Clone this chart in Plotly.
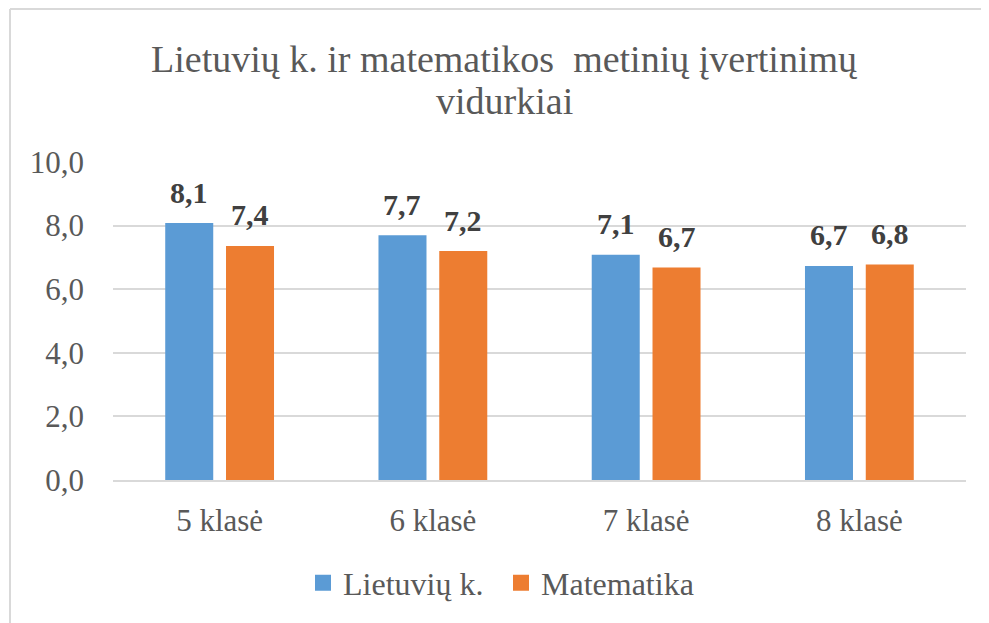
import plotly.graph_objects as go

categories = ["5 klasė", "6 klasė", "7 klasė", "8 klasė"]
lietuviu = [8.08, 7.70, 7.08, 6.73]
matematika = [7.36, 7.20, 6.68, 6.78]
series_names = ["Lietuvių k.", "Matematika"]
series_colors = ["#5B9BD5", "#ED7D31"]
y_ticks = [0, 2, 4, 6, 8, 10]
y_tick_labels = ["0,0", "2,0", "4,0", "6,0", "8,0", "10,0"]
title_line1 = "Lietuvių k. ir matematikos  metinių įvertinimų"
title_line2 = "vidurkiai"

SERIF = "Liberation Serif"
# page body has an 8px margin; compensate so the picture lands where intended
OFF = 8
W, H = 989 - OFF, 623 - OFF
ml, mr, mt, mb = 113 - OFF, 23, 162 - OFF, 143
pw = W - ml - mr
ph = H - mt - mb


def py(screen_y):
    """screen y -> paper y"""
    return ((H - mb) - (screen_y - OFF)) / ph


def px(screen_x):
    return ((screen_x - OFF) - ml) / pw


fig = go.Figure()
series = [lietuviu, matematika]
for name, vals, color in zip(series_names, series, series_colors):
    fig.add_trace(go.Bar(
        x=categories, y=vals, name=name, showlegend=False,
        marker=dict(color=color, line=dict(width=0)),
        hoverinfo="skip",
    ))
# legend entries with larger square symbols
for name, color in zip(series_names, series_colors):
    fig.add_trace(go.Scatter(
        x=[categories[0]], y=[None], name=name, mode="markers",
        marker=dict(symbol="square", size=16, color=color),
        showlegend=True,
    ))

# bold value labels above bars
shifts = [-30.5, 30.5]
for vals, xs in zip(series, shifts):
    for cat, v in zip(categories, vals):
        fig.add_annotation(
            x=cat, y=v, xref="x", yref="y", text=f"<b>{v:.1f}</b>".replace(".", ","),
            showarrow=False, xshift=xs, yshift=31, yanchor="middle",
            font=dict(family=SERIF, size=30, color="#404040"),
        )

# title (two lines with Office-like line spacing)
fig.add_annotation(text=title_line1, xref="paper", yref="paper",
                   x=px(504), y=py(59), xanchor="center", yanchor="middle",
                   showarrow=False,
                   font=dict(family=SERIF, size=38, color="#595959"))
fig.add_annotation(text=title_line2, xref="paper", yref="paper",
                   x=px(504), y=py(101), xanchor="center", yanchor="middle",
                   showarrow=False,
                   font=dict(family=SERIF, size=38, color="#595959"))

# chart frame (top and left edges visible in the reference)
fig.add_shape(type="line", xref="paper", yref="paper",
              x0=px(10), x1=px(1000), y0=py(9), y1=py(9),
              line=dict(color="#D9D9D9", width=2))
fig.add_shape(type="line", xref="paper", yref="paper",
              x0=px(10), x1=px(10), y0=py(9), y1=py(640),
              line=dict(color="#D9D9D9", width=2))

fig.update_layout(
    width=W, height=H,
    margin=dict(l=ml, r=mr, t=mt, b=mb),
    paper_bgcolor="white", plot_bgcolor="white",
    separators=", ",
    barmode="group", bargap=0.43, bargroupgap=0.21,
    font=dict(family=SERIF, color="#595959"),
    xaxis=dict(showline=True, linecolor="#D9D9D9", linewidth=1.5,
               tickfont=dict(family=SERIF, size=31, color="#595959"),
               ticks="", ticklabelstandoff=12, fixedrange=True),
    yaxis=dict(range=[0, 10], tickvals=y_ticks, ticktext=y_tick_labels,
               showgrid=True, gridcolor="#D9D9D9", gridwidth=1.5,
               zeroline=False, showline=False,
               tickfont=dict(family=SERIF, size=31, color="#595959"),
               ticks="", ticklabelstandoff=28, fixedrange=True),
    legend=dict(orientation="h", x=px(501), xanchor="center",
                y=py(583), yanchor="middle",
                font=dict(family=SERIF, size=32, color="#595959"),
                entrywidth=153, entrywidthmode="pixels",
                itemsizing="trace", traceorder="normal"),
    showlegend=True,
)

fig.write_html("out.html")
